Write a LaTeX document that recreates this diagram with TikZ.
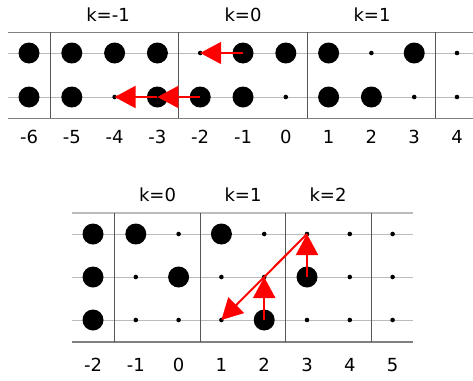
\documentclass[tikz,border=0pt]{standalone}
\usepackage{fontspec}
\setmainfont{DejaVu Sans}
\usetikzlibrary{arrows.meta}
\definecolor{rowgray}{HTML}{BBBBBB}
\definecolor{framegray}{HTML}{808080}
\definecolor{sepgray}{HTML}{555555}
\newcommand{\LabelFont}{\fontsize{18}{21}\selectfont}

\begin{document}
\begin{tikzpicture}[x=1pt,y=-1pt,
    dotb/.style={circle,fill=black,inner sep=0pt,minimum size=21pt},
    dots/.style={circle,fill=black,inner sep=0pt,minimum size=4.6pt},
    lbl/.style={inner sep=0pt,font=\LabelFont},
    move/.style={red,line width=2pt,-{Triangle[length=21pt,width=22pt]}}]
  \useasboundingbox (0,0) rectangle (473,380);
  % upper panel
  \foreach \y in {53,97}
    \draw[rowgray,line width=0.8pt] (8,\y) -- (473,\y);
  \draw[framegray,line width=1pt] (8,32) -- (473,32);
  \draw[framegray,line width=1pt] (8,118) -- (473,118);
  \foreach \i in {0,3,6,9}
    \draw[sepgray,line width=0.9pt] ({29+42.8*(\i+0.5)},32) -- ({29+42.8*(\i+0.5)},118);
  \foreach \r/\y/\pat in {1/53/{b,b,b,b,s,b,b,b,s,b,s},2/97/{b,b,s,b,b,b,s,b,b,s,s}}
    \foreach \k [count=\i from 0] in \pat
      \node[dot\k] (t\r-\i) at ({29+42.8*\i},\y) {};
  \foreach \n [count=\i from 0] in {-6,-5,-4,-3,-2,-1,0,1,2,3,4}
    \node[lbl] (tn\i) at ({29+42.8*\i},137) {\n};
  \node[lbl] (tk1) at (108,15) {k=-1};
  \node[lbl] (tk2) at (243,15) {k=0};
  \node[lbl] (tk3) at (372,15) {k=1};
  \draw[move] (t1-5.center) -- (t1-4.center);
  \draw[move] (t2-4.center) -- (t2-3.center);
  \draw[move] (t2-3.center) -- (t2-2.center);
  % lower panel
  \foreach \y in {234,277,320}
    \draw[rowgray,line width=0.8pt] (72,\y) -- (413,\y);
  \draw[rowgray,line width=2pt] (72,213) -- (413,213);
  \draw[framegray,line width=1.3pt] (72,342) -- (413,342);
  \foreach \i in {0,2,4,6}
    \draw[sepgray,line width=0.9pt] ({93+42.8*(\i+0.5)},213) -- ({93+42.8*(\i+0.5)},342);
  \foreach \r/\y/\pat in {1/234/{b,b,s,b,s,s,s,s},2/277/{b,s,b,s,s,b,s,s},3/320/{b,s,s,s,b,s,s,s}}
    \foreach \k [count=\i from 0] in \pat
      \node[dot\k] (b\r-\i) at ({93+42.8*\i},\y) {};
  \foreach \n [count=\i from 0] in {-2,-1,0,1,2,3,4,5}
    \node[lbl] (bn\i) at ({93+42.8*\i},365) {\n};
  \node[lbl] (bk1) at (157.5,195) {k=0};
  \node[lbl] (bk2) at (243,195) {k=1};
  \node[lbl] (bk3) at (328,195) {k=2};
  \draw[move] (b3-4.center) -- (b2-4.center);
  \draw[move] (b2-5.center) -- (b1-5.center);
  \draw[move] (b1-5.center) -- (b3-3.center);
\end{tikzpicture}
\end{document}
